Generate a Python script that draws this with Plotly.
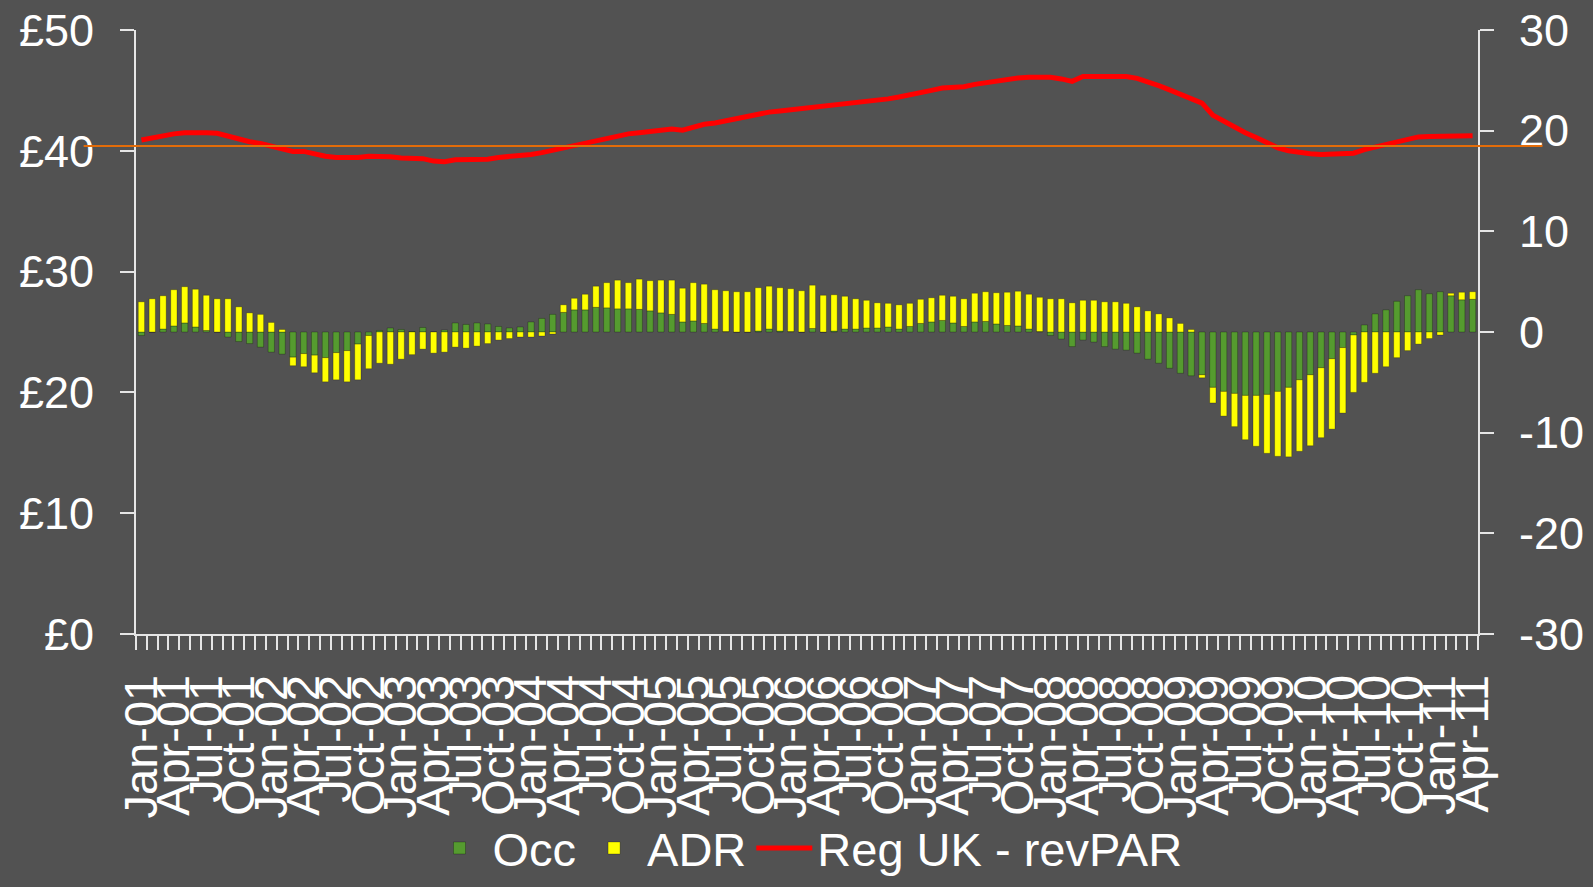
import pandas as pd
import plotly.graph_objects as go

# ── Colours ───────────────────────────────────────────────────────────────
COLORS = {
    "bg": "#525252",
    "axis": "#E6E6E6",
    "text": "#FFFFFF",
    "occ": "#559B2F",
    "adr": "#FFFF00",
    "revpar": "#FF0000",
    "avg": "#E36C09",
}
FONT = "Liberation Sans, Arial, sans-serif"

# ── Data (monthly, Jan-01 .. Apr-11) ──────────────────────────────────────
months = pd.date_range("2001-01-01", periods=124, freq="MS").strftime("%b-%y").tolist()

occ = [
    -0.35, 0.0, 0.3, 0.6, 0.9, 0.5, 0.15, 0.0, -0.5, -0.95, -1.15, -1.5,
    -2.0, -2.2, -2.5, -2.15, -2.3, -2.55, -2.05, -1.85, -1.2, -0.35, 0.15, 0.4,
    0.25, 0.05, 0.45, 0.0, 0.2, 0.9, 0.75, 0.9, 0.8, 0.55, 0.4, 0.5,
    1.0, 1.35, 1.75, 1.95, 2.2, 2.2, 2.45, 2.4, 2.3, 2.3, 2.25, 2.1,
    1.9, 1.75, 1.0, 1.1, 0.85, 0.3, 0.05, 0.0, 0.0, 0.1, 0.3, 0.1,
    0.05, 0.0, 0.35, 0.0, 0.1, 0.3, 0.3, 0.4, 0.4, 0.5, 0.3, 0.55,
    0.85, 1.0, 1.15, 0.9, 0.55, 1.0, 1.05, 0.8, 0.65, 0.6, 0.3, 0.05,
    -0.35, -0.7, -1.45, -0.8, -1.0, -1.45, -1.7, -1.8, -2.1, -2.7, -3.1, -3.6,
    -4.1, -4.35, -4.25, -5.5, -5.9, -6.1, -6.3, -6.3, -6.2, -5.9, -5.5, -4.75,
    -4.25, -3.55, -2.65, -1.55, -0.3, 0.7, 1.8, 2.2, 3.05, 3.6, 4.2, 3.8,
    4.0, 3.6, 3.2, 3.25,
]

adr = [
    3.0, 3.3, 3.3, 3.6, 3.6, 3.75, 3.5, 3.3, 3.3, 2.5, 1.9, 1.75,
    0.95, 0.25, -0.85, -1.3, -1.75, -2.4, -2.7, -3.1, -3.55, -3.3, -3.1, -3.2,
    -2.7, -2.25, -1.7, -2.1, -2.0, -1.5, -1.6, -1.4, -1.15, -0.8, -0.65, -0.5,
    -0.5, -0.4, -0.2, 0.75, 1.15, 1.55, 2.1, 2.5, 2.85, 2.6, 3.0, 3.0,
    3.25, 3.4, 3.35, 3.8, 3.9, 3.9, 4.05, 4.0, 4.0, 4.3, 4.25, 4.3,
    4.25, 4.1, 4.3, 3.65, 3.6, 3.25, 3.0, 2.75, 2.5, 2.35, 2.4, 2.3,
    2.4, 2.4, 2.5, 2.65, 2.75, 2.85, 2.95, 3.1, 3.3, 3.45, 3.45, 3.4,
    3.3, 3.3, 2.9, 3.15, 3.15, 3.0, 3.0, 2.85, 2.5, 2.1, 1.8, 1.4,
    0.85, 0.25, -0.3, -1.55, -2.45, -3.3, -4.4, -5.05, -5.85, -6.45, -6.9, -7.1,
    -7.05, -6.95, -7.0, -6.5, -5.7, -5.0, -4.1, -3.45, -2.55, -1.85, -1.2, -0.65,
    -0.3, 0.25, 0.75, 0.75,
]

revpar = [
    40.9, 41.1, 41.3, 41.4, 41.5, 41.55, 41.5, 41.45, 41.2, 40.95, 40.75, 40.6,
    40.4, 40.1, 39.95, 39.95, 39.7, 39.55, 39.45, 39.4, 39.45, 39.55, 39.55, 39.5,
    39.4, 39.35, 39.35, 39.15, 39.1, 39.25, 39.25, 39.25, 39.3, 39.45, 39.5, 39.6,
    39.7, 39.85, 40.05, 40.25, 40.45, 40.65, 40.9, 41.1, 41.3, 41.4, 41.5, 41.6,
    41.7, 41.8, 41.7, 42.0, 42.2, 42.3, 42.5, 42.65, 42.85, 43.1, 43.2, 43.3,
    43.4, 43.45, 43.55, 43.65, 43.8, 43.85, 43.9, 44.0, 44.15, 44.3, 44.45, 44.6,
    44.85, 45.0, 45.2, 45.2, 45.3, 45.5, 45.65, 45.8, 45.95, 46.03, 46.08, 46.1,
    46.08, 45.95, 45.75, 46.15, 46.17, 46.15, 46.15, 46.15, 46.0, 45.75, 45.4, 45.05,
    44.7, 44.3, 43.95, 42.95, 42.45, 41.95, 41.5, 41.1, 40.65, 40.25, 40.0, 39.85,
    39.75, 39.7, 39.7, 39.7, 39.8, 40.1, 40.3, 40.45, 40.75, 40.95, 41.15, 41.18,
    41.2, 41.22, 41.25, 41.25,
]

avg_revpar = 40.4

# right-axis ticks, written with a plain hyphen like the source
right_ticks = [-30, -20, -10, 0, 10, 20, 30]
right_ticktext = [str(v) for v in right_ticks]

# ── Figure ────────────────────────────────────────────────────────────────
fig = go.Figure()
bar_line = dict(color="rgba(0,0,0,0.25)", width=1)
fig.add_trace(go.Bar(x=months, y=occ, name="Occ", yaxis="y2",
                     marker=dict(color=COLORS["occ"], line=bar_line)))
fig.add_trace(go.Bar(x=months, y=adr, name="ADR", yaxis="y2",
                     marker=dict(color=COLORS["adr"], line=bar_line)))
fig.add_trace(go.Scatter(x=months, y=revpar, name="Reg UK - revPAR", mode="lines",
                         line=dict(color=COLORS["revpar"], width=5)))

# average reference line, runs past both axes like the source chart
fig.add_shape(type="line", xref="paper", yref="y", x0=-0.039, x1=1.048,
              y0=avg_revpar, y1=avg_revpar, line=dict(color=COLORS["avg"], width=2),
              layer="above")

axis_common = dict(showline=True, linecolor=COLORS["axis"], linewidth=2,
                   ticks="outside", tickcolor=COLORS["axis"], tickwidth=2,
                   showgrid=False, zeroline=False, automargin=False,
                   tickfont=dict(size=45, color=COLORS["text"], family=FONT))

fig.update_layout(
    width=1593, height=887,
    paper_bgcolor=COLORS["bg"], plot_bgcolor=COLORS["bg"],
    font=dict(family=FONT, color=COLORS["text"], size=45),
    margin=dict(l=136, r=115, t=30, b=253, autoexpand=False),
    barmode="relative", bargap=0.42,
    showlegend=True,
    legend=dict(orientation="h", x=0.5, xanchor="center", y=-0.355, yanchor="middle",
                font=dict(size=47, color=COLORS["text"]), bgcolor="rgba(0,0,0,0)",
                itemwidth=56, tracegroupgap=0),
    xaxis=dict(**axis_common, type="category", tickangle=-90, dtick=1,
               ticklabelstep=3, tickson="boundaries", ticklen=14,
               ticklabelstandoff=20, range=[-0.5, len(months) - 0.5]),
    yaxis=dict(**axis_common, range=[0, 50], dtick=10, tickprefix="£",
               ticklen=14, ticklabelstandoff=17),
    yaxis2=dict(**axis_common, overlaying="y", side="right", range=[-30, 30],
                tickmode="array", tickvals=right_ticks, ticktext=right_ticktext,
                ticklen=14, ticklabelstandoff=16),
)
fig.update_xaxes(tickfont=dict(size=47))

fig.write_html("out.html", config={"displayModeBar": False},
               post_script="document.body.style.margin='0';"
                           "document.body.style.overflow='hidden';")
